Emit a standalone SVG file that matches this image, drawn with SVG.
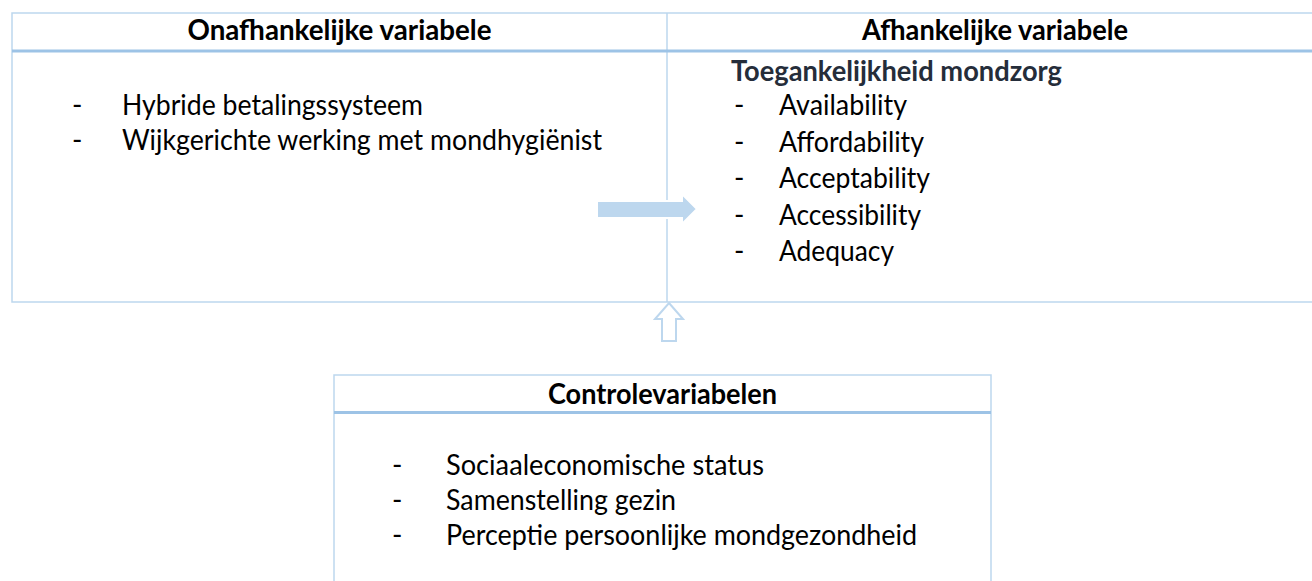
<svg xmlns="http://www.w3.org/2000/svg" width="1312" height="581" viewBox="0 0 1312 581">
<style>
.b{fill:none;stroke:#BDD7EE;stroke-width:1.5}
.h{fill:none;stroke:#9DC3E6;stroke-width:3}
text{font-family:Lato,"Liberation Sans",sans-serif;font-size:28px;fill:#000}
.t{font-weight:bold}
.c{text-anchor:middle}
.s{fill:#252D3A}
</style>
<rect width="1312" height="581" fill="#fff"/>
<g id="table">
<path class="b" d="M1330,13 H12 V302 H1330 M667,13 V302"/>
<path class="h" d="M12,51 H1330"/>
</g>
<g id="independent">
<text class="t c" x="339.5" y="40" textLength="304" lengthAdjust="spacingAndGlyphs">Onafhankelijke variabele</text>
<text x="72" y="115">-</text><text x="122" y="115" textLength="301" lengthAdjust="spacingAndGlyphs">Hybride betalingssysteem</text>
<text x="72" y="150">-</text><text x="122" y="150" textLength="480" lengthAdjust="spacingAndGlyphs">Wijkgerichte werking met mondhygiënist</text>
</g>
<g id="dependent">
<text class="t c" x="995" y="40" textLength="266" lengthAdjust="spacingAndGlyphs">Afhankelijke variabele</text>
<text class="t s" x="731" y="81" textLength="331" lengthAdjust="spacingAndGlyphs">Toegankelijkheid mondzorg</text>
<text x="734" y="115">-</text><text x="779" y="115" textLength="128" lengthAdjust="spacingAndGlyphs">Availability</text>
<text x="734" y="151.5">-</text><text x="779" y="151.5" textLength="145" lengthAdjust="spacingAndGlyphs">Affordability</text>
<text x="734" y="188">-</text><text x="779" y="188" textLength="151" lengthAdjust="spacingAndGlyphs">Acceptability</text>
<text x="734" y="224.5">-</text><text x="779" y="224.5" textLength="142" lengthAdjust="spacingAndGlyphs">Accessibility</text>
<text x="734" y="261">-</text><text x="779" y="261" textLength="115" lengthAdjust="spacingAndGlyphs">Adequacy</text>
</g>
<g id="control">
<path class="b" d="M334,590 V375 H991 V590"/>
<path class="h" d="M334,412.5 H991"/>
<text class="t c" x="662.5" y="404" textLength="229" lengthAdjust="spacingAndGlyphs">Controlevariabelen</text>
<text x="392" y="475">-</text><text x="446" y="475" textLength="318" lengthAdjust="spacingAndGlyphs">Sociaaleconomische status</text>
<text x="392" y="510">-</text><text x="446" y="510" textLength="230" lengthAdjust="spacingAndGlyphs">Samenstelling gezin</text>
<text x="392" y="545">-</text><text x="446" y="545" textLength="471" lengthAdjust="spacingAndGlyphs">Perceptie persoonlijke mondgezondheid</text>
</g>
<g id="connectors">
<polygon points="597,201 682,201 682,194 697,209 682,224 682,218 597,218" fill="#BDD7EE" stroke="#fff" stroke-width="2"/>
<polygon points="669,303 683,319 676,319 676,341 662,341 662,319 655,319" fill="#fff" stroke="#BDD7EE" stroke-width="2"/>
</g>
</svg>
